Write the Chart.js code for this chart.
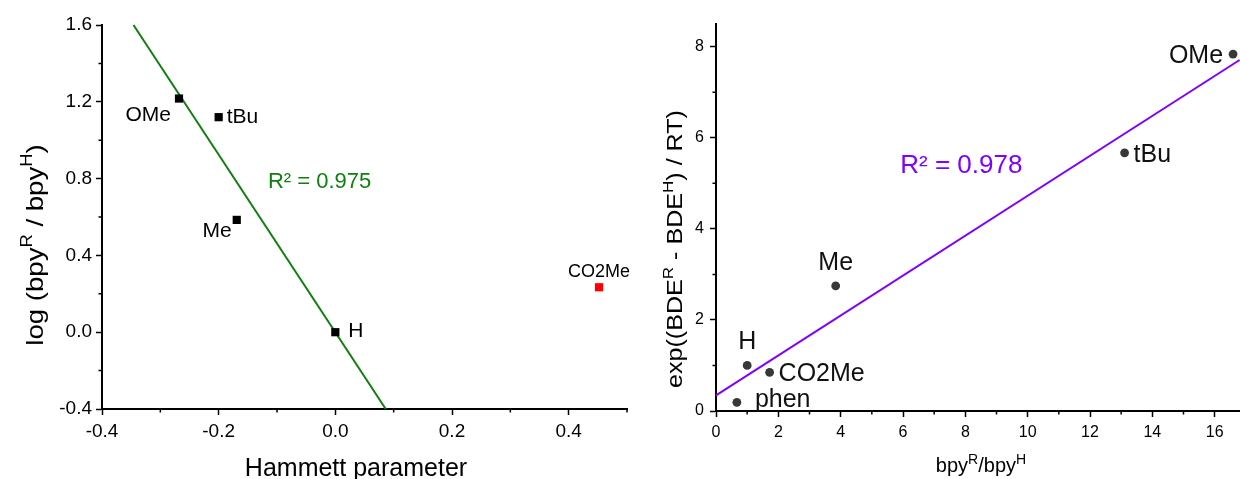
<!DOCTYPE html>
<html>
<head>
<meta charset="utf-8">
<script src="https://cdn.jsdelivr.net/npm/chart.js@4.4.0/dist/chart.umd.min.js"></script>
<style>
  html, body { margin: 0; padding: 0; background: #fff; overflow: hidden; }
  #wrap { position: relative; width: 1240px; height: 479px; overflow: hidden; }
  .box { position: absolute; top: 0; height: 479px; }
  #leftBox { left: 0; width: 640px; }
  #rightBox { left: 640px; width: 604px; }
</style>
</head>
<body>
<div id="wrap">
  <div class="box" id="leftBox"><canvas id="hammett"></canvas></div>
  <div class="box" id="rightBox"><canvas id="bde"></canvas></div>
</div>
<script>
// ---- left panel: log(bpyR/bpyH) vs Hammett parameter ----
const hamNames = ['OMe', 'tBu', 'Me', 'H'];
const hamX = [-0.268, -0.200, -0.169, 0.0];
const hamY = [1.217, 1.12, 0.585, 0.0];
const outNames = ['CO2Me'];
const outX = [0.452];
const outY = [0.234];
const hamFitX = [-0.346, 0.0864];
const hamFitY = [1.6, -0.4];
const hamXTicks = [-0.4, -0.2, 0.0, 0.2, 0.4];
const hamXMinor = [-0.3, -0.1, 0.1, 0.3, 0.5];
const hamYTicks = [-0.4, 0.0, 0.4, 0.8, 1.2, 1.6];
const hamYMinor = [-0.2, 0.2, 0.6, 1.0, 1.4];
const hamR2 = 'R² = 0.975';

// ---- right panel: exp((BDE_R - BDE_H)/RT) vs bpyR/bpyH ----
const bdeNames = ['OMe', 'tBu', 'Me', 'H', 'CO2Me', 'phen'];
const bdeX = [16.59, 13.11, 3.84, 1.0, 1.72, 0.67];
const bdeY = [7.84, 5.67, 2.75, 1.0, 0.85, 0.19];
const bdeFitX = [0, 16.8];
const bdeFitY = [0.345, 7.71];
const bdeXTicks = [0, 2, 4, 6, 8, 10, 12, 14, 16];
const bdeXMinor = [1, 3, 5, 7, 9, 11, 13, 15];
const bdeYTicks = [0, 2, 4, 6, 8];
const bdeYMinor = [1, 3, 5, 7];
const bdeR2 = 'R² = 0.978';

const FONT = "'Liberation Sans', Arial, sans-serif";
const GREEN = '#0f7f0f';
const VIOLET = '#8000ff';

const pts = (xs, ys) => xs.map((x, i) => ({ x: x, y: ys[i] }));

// text with superscripts, centred on 0 along the baseline
function drawRich(ctx, segs, size, supSize, rise, color) {
  const main = size + 'px ' + FONT, sup = supSize + 'px ' + FONT;
  let total = 0;
  segs.forEach(s => { ctx.font = s.sup ? sup : main; total += ctx.measureText(s.t).width; });
  let x = -total / 2;
  ctx.fillStyle = color;
  ctx.textBaseline = 'alphabetic';
  ctx.textAlign = 'left';
  segs.forEach(s => {
    ctx.font = s.sup ? sup : main;
    ctx.fillText(s.t, x, s.sup ? -rise : 0);
    x += ctx.measureText(s.t).width;
  });
}

const axisTitles = {
  id: 'axisTitles',
  afterDraw(chart, args, opts) {
    const ctx = chart.ctx;
    (opts.items || []).forEach(it => {
      ctx.save();
      ctx.translate(it.x, it.y);
      if (it.rotate) ctx.rotate(-Math.PI / 2);
      if (it.stretch) ctx.scale(it.stretch, 1);
      drawRich(ctx, it.segs, it.size, it.supSize || it.size, it.rise || 0, '#000');
      ctx.restore();
    });
  }
};

// short unlabelled ticks between the labelled ones
const minorTicks = {
  id: 'minorTicks',
  afterDraw(chart, args, opts) {
    const ctx = chart.ctx, a = chart.chartArea;
    ctx.save();
    ctx.strokeStyle = '#000';
    ctx.lineWidth = 1.5;
    ctx.beginPath();
    (opts.x || []).forEach(v => {
      const px = chart.scales.x.getPixelForValue(v);
      ctx.moveTo(px, a.bottom); ctx.lineTo(px, a.bottom + opts.len);
    });
    (opts.y || []).forEach(v => {
      const py = chart.scales.y.getPixelForValue(v);
      ctx.moveTo(a.left, py); ctx.lineTo(a.left - opts.len, py);
    });
    ctx.stroke();
    ctx.restore();
  }
};

const pointLabels = {
  id: 'pointLabels',
  afterDatasetsDraw(chart, args, opts) {
    const ctx = chart.ctx;
    (opts.sets || []).forEach(set => {
      const meta = chart.getDatasetMeta(set.dataset);
      ctx.save();
      ctx.font = set.size + 'px ' + FONT;
      ctx.fillStyle = set.color || '#000';
      ctx.textBaseline = 'alphabetic';
      set.names.forEach((name, i) => {
        const p = meta.data[i];
        const pl = set.place[i];
        ctx.textAlign = pl[2];
        ctx.fillText(name, p.x + pl[0], p.y + pl[1] + set.size * 0.36);
      });
      ctx.restore();
    });
    (opts.notes || []).forEach(n => {
      ctx.save();
      ctx.font = n.size + 'px ' + FONT;
      ctx.fillStyle = n.color;
      ctx.textAlign = 'center';
      ctx.textBaseline = 'alphabetic';
      const px = chart.scales.x.getPixelForValue(n.x);
      const py = chart.scales.y.getPixelForValue(n.y);
      ctx.fillText(n.text, px, py + n.size * 0.36);
      ctx.restore();
    });
  }
};

function axis(min, max, ticks, size, fmt, pad, fit) {
  return {
    type: 'linear',
    min: min,
    max: max,
    afterBuildTicks: s => { s.ticks = ticks.map(v => ({ value: v })); },
    afterFit: s => {
      // keep the label overhang from shrinking the plot area
      s.paddingLeft = 0; s.paddingRight = 0; s.paddingTop = 0; s.paddingBottom = 0;
      fit(s);
    },
    ticks: {
      font: { family: FONT, size: size },
      color: '#000',
      padding: pad,
      autoSkip: false,
      maxRotation: 0,
      callback: fmt
    },
    grid: { drawOnChartArea: false, drawTicks: true, tickLength: 6, tickWidth: 1.5, tickColor: '#000' },
    border: { display: true, color: '#000', width: 2 }
  };
}

const common = {
  responsive: true,
  maintainAspectRatio: false,
  animation: false,
  events: []
};

new Chart(document.getElementById('hammett'), {
  type: 'scatter',
  data: {
    datasets: [
      {
        data: pts(hamX, hamY),
        pointStyle: 'rect',
        pointRadius: 5.8,
        backgroundColor: '#000',
        borderWidth: 0,
        clip: false,
        order: 1
      },
      {
        data: pts(outX, outY),
        pointStyle: 'rect',
        pointRadius: 5.8,
        backgroundColor: '#ff0000',
        borderWidth: 0,
        clip: false,
        order: 1
      },
      {
        data: pts(hamFitX, hamFitY),
        showLine: true,
        borderColor: GREEN,
        borderWidth: 2,
        pointRadius: 0,
        clip: false,
        order: 2
      }
    ]
  },
  options: Object.assign({}, common, {
    layout: { padding: { left: 0, right: 13, top: 25, bottom: 0 } },
    scales: {
      x: axis(-0.4, 0.5, hamXTicks, 19, v => v.toFixed(1), 5, s => { s.height = 70; }),
      y: axis(-0.4, 1.6, hamYTicks, 19, v => v.toFixed(1), 4, s => { s.width = 102; })
    },
    plugins: {
      legend: { display: false },
      tooltip: { enabled: false },
      minorTicks: { x: hamXMinor, y: hamYMinor, len: 3.5 },
      pointLabels: {
        sets: [
          { dataset: 0, names: hamNames, size: 21,
            place: [[-8, 15, 'right'], [8, -1.5, 'left'], [-5, 10, 'right'], [13, -3, 'left']] },
          { dataset: 1, names: outNames, size: 18, place: [[0, -17, 'center']] }
        ],
        notes: [{ text: hamR2, x: -0.027, y: 0.793, size: 22, color: GREEN }]
      },
      axisTitles: {
        items: [
          { segs: [{ t: 'Hammett parameter' }], size: 25, x: 356, y: 476 },
          { segs: [{ t: 'log (bpy' }, { t: 'R', sup: true }, { t: ' / bpy' }, { t: 'H', sup: true }, { t: ')' }],
            size: 24, supSize: 16, rise: 11, x: 43, y: 245, rotate: true, stretch: 1.15 }
        ]
      }
    }
  }),
  plugins: [minorTicks, pointLabels, axisTitles]
});

new Chart(document.getElementById('bde'), {
  type: 'scatter',
  data: {
    datasets: [
      {
        data: pts(bdeX, bdeY),
        pointStyle: 'circle',
        pointRadius: 4.4,
        backgroundColor: '#383838',
        borderWidth: 0,
        clip: false,
        order: 1
      },
      {
        data: pts(bdeFitX, bdeFitY),
        showLine: true,
        borderColor: VIOLET,
        borderWidth: 2,
        pointRadius: 0,
        clip: false,
        order: 2
      }
    ]
  },
  options: Object.assign({}, common, {
    layout: { padding: { left: 0, right: 0, top: 24, bottom: 0 } },
    scales: {
      x: axis(0, 16.8, bdeXTicks, 16, v => String(v), 6, s => { s.height = 68; }),
      y: axis(0, 8.5, bdeYTicks, 16, v => String(v), 6, s => { s.width = 76; })
    },
    plugins: {
      legend: { display: false },
      tooltip: { enabled: false },
      minorTicks: { x: bdeXMinor, y: bdeYMinor, len: 3.5 },
      pointLabels: {
        sets: [
          { dataset: 0, names: bdeNames, size: 25, color: '#111',
            place: [[-10, 0, 'right'], [9, 0, 'left'], [0, -25, 'center'], [0, -25, 'center'],
                    [9, 0, 'left'], [18, -4, 'left']] }
        ],
        notes: [{ text: bdeR2, x: 7.87, y: 5.44, size: 26, color: VIOLET }]
      },
      axisTitles: {
        items: [
          { segs: [{ t: 'bpy' }, { t: 'R', sup: true }, { t: '/bpy' }, { t: 'H', sup: true }],
            size: 20, supSize: 14, rise: 8, x: 341, y: 472 },
          { segs: [{ t: 'exp((BDE' }, { t: 'R', sup: true }, { t: ' - BDE' }, { t: 'H', sup: true }, { t: ') / RT)' }],
            size: 22, supSize: 15, rise: 9, x: 41.7, y: 249, rotate: true, stretch: 1.14 }
        ]
      }
    }
  }),
  plugins: [minorTicks, pointLabels, axisTitles]
});
</script>
</body>
</html>
